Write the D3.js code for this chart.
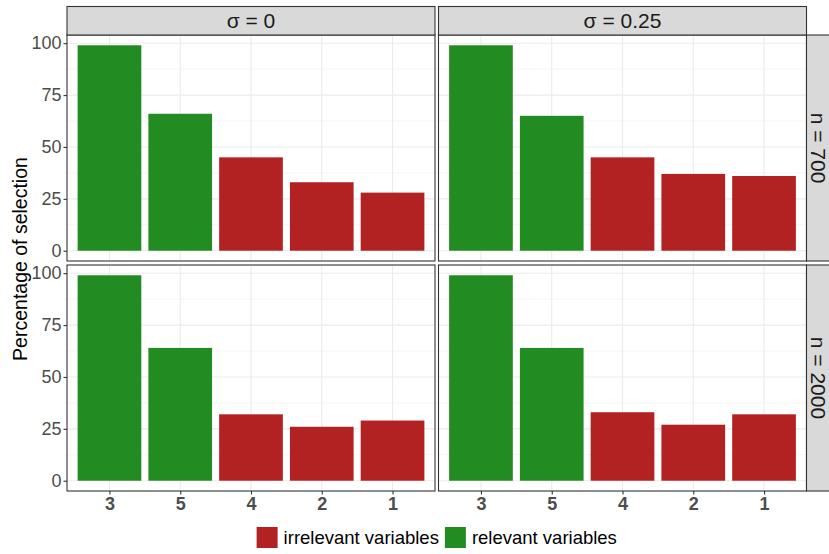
<!DOCTYPE html>
<html lang="en">
  <head>
    <meta charset="utf-8" />
    <title>Percentage of selection</title>
    <script src="https://d3js.org/d3.v7.js"></script>
    <style>
      body { margin: 0; background: #fff; }
      text { font-family: "Liberation Sans", Arial, sans-serif; }
    </style>
  </head>
  <body>
    <div id="graph"></div>
    <script>

    // data
    var variables = ["3", "5", "4", "2", "1"];
    var groups = ["relevant", "relevant", "irrelevant", "irrelevant", "irrelevant"];
    var sigmaLabels = ["0", "0.25"];
    var nLabels = ["700", "2000"];
    var sel_n700_s0 = [99, 66, 45, 33, 28];
    var sel_n700_s025 = [99, 65, 45, 37, 36];
    var sel_n2000_s0 = [99, 64, 32, 26, 29];
    var sel_n2000_s025 = [99, 64, 33, 27, 32];
    var yTicks = [0, 25, 50, 75, 100];
    var yMinor = [12.5, 37.5, 62.5, 87.5];
    var legendLabels = ["irrelevant variables", "relevant variables"];
    var legendGroups = ["irrelevant", "relevant"];

    var panels = [
      {row: 0, col: 0, values: sel_n700_s0},
      {row: 0, col: 1, values: sel_n700_s025},
      {row: 1, col: 0, values: sel_n2000_s0},
      {row: 1, col: 1, values: sel_n2000_s025}
    ];

    var colour = d3.scaleOrdinal()
      .domain(["irrelevant", "relevant"])
      .range(["#B22222", "#228B22"]);

    // layout
    var w = 829, h = 554;
    var plotLeft = 67, plotTop = 35;
    var panelW = 368, panelH = 226;
    var gapX = 3.5, gapY = 4;
    var stripH = 28.5;

    var x = d3.scaleLinear()
      .domain([0.4, 5.6])
      .range([0, panelW]);

    var y = d3.scaleLinear()
      .domain([-4.95, 103.95])
      .range([panelH, 0]);

    var svg = d3.select("#graph")
      .append("svg")
        .attr("width", w)
        .attr("height", h);

    panels.forEach(function(p) {
      var px = plotLeft + p.col * (panelW + gapX);
      var py = plotTop + p.row * (panelH + gapY);
      var g = svg.append("g")
        .attr("transform", `translate(${px},${py})`);

      g.append("rect")
        .attr("width", panelW)
        .attr("height", panelH)
        .attr("fill", "#fff");

      // grid
      g.selectAll(".minor")
        .data(yMinor)
        .join("line")
          .attr("x1", 0).attr("x2", panelW)
          .attr("y1", d => y(d)).attr("y2", d => y(d))
          .attr("stroke", "#f2f2f2")
          .attr("stroke-width", 0.8);
      g.selectAll(".hmajor")
        .data(yTicks)
        .join("line")
          .attr("x1", 0).attr("x2", panelW)
          .attr("y1", d => y(d)).attr("y2", d => y(d))
          .attr("stroke", "#ebebeb")
          .attr("stroke-width", 1.1);
      g.selectAll(".vmajor")
        .data(variables)
        .join("line")
          .attr("x1", (d, i) => x(i + 1)).attr("x2", (d, i) => x(i + 1))
          .attr("y1", 0).attr("y2", panelH)
          .attr("stroke", "#ebebeb")
          .attr("stroke-width", 1.1);

      // bars
      g.selectAll(".bar")
        .data(p.values)
        .join("rect")
          .attr("x", (d, i) => x(i + 1 - 0.45))
          .attr("width", x(1.45) - x(0.55))
          .attr("y", d => y(d))
          .attr("height", d => y(0) - y(d))
          .attr("fill", (d, i) => colour(groups[i]));

      g.append("rect")
        .attr("width", panelW)
        .attr("height", panelH)
        .attr("fill", "none")
        .attr("stroke", "#333333")
        .attr("stroke-width", 1.1);

      // y axis on the left column
      if (p.col === 0) {
        var ya = g.append("g")
          .call(d3.axisLeft(y).tickValues(yTicks).tickSize(3.5).tickPadding(2));
        ya.select(".domain").remove();
        ya.selectAll("line").attr("stroke", "#333333").attr("stroke-width", 1.1);
        ya.selectAll("text")
          .attr("fill", "#4d4d4d")
          .style("font-size", "18px")
          .style("font-family", "'Liberation Sans', Arial, sans-serif");
      }

      // x axis on the bottom row
      if (p.row === 1) {
        var xa = g.append("g")
          .attr("transform", `translate(0,${panelH})`)
          .call(d3.axisBottom(x).tickValues([1, 2, 3, 4, 5])
            .tickFormat(d => variables[d - 1]).tickSize(3.5).tickPadding(3));
        xa.select(".domain").remove();
        xa.selectAll("line").attr("stroke", "#333333").attr("stroke-width", 1.1);
        xa.selectAll("text")
          .attr("fill", "#4d4d4d")
          .style("font-size", "18px")
          .style("font-weight", "bold")
          .style("font-family", "'Liberation Sans', Arial, sans-serif");
      }

      // top strips
      if (p.row === 0) {
        g.append("rect")
          .attr("y", -stripH)
          .attr("width", panelW)
          .attr("height", stripH)
          .attr("fill", "#d9d9d9")
          .attr("stroke", "#333333")
          .attr("stroke-width", 1.1);
        g.append("text")
          .attr("x", panelW / 2)
          .attr("y", -stripH / 2)
          .attr("dy", "0.36em")
          .attr("text-anchor", "middle")
          .attr("fill", "#1a1a1a")
          .style("font-size", "21px")
          .text("σ = " + sigmaLabels[p.col]);
      }

      // right strips (cut by the picture edge, as in the original)
      if (p.col === 1) {
        g.append("rect")
          .attr("x", panelW)
          .attr("width", stripH)
          .attr("height", panelH)
          .attr("fill", "#d9d9d9")
          .attr("stroke", "#333333")
          .attr("stroke-width", 1.1);
        g.append("text")
          .attr("transform", `translate(${panelW + 12.5},${panelH / 2}) rotate(90)`)
          .attr("dy", "0.36em")
          .attr("text-anchor", "middle")
          .attr("fill", "#1a1a1a")
          .style("font-size", "21px")
          .text("n = " + nLabels[p.row]);
      }
    });

    // y title
    svg.append("text")
      .attr("transform", "translate(20,259) rotate(-90)")
      .attr("dy", "0.36em")
      .attr("text-anchor", "middle")
      .style("font-size", "19.5px")
      .text("Percentage of selection");

    // legend
    var key = 21;
    var legend = svg.append("g");
    var cursor = 0;
    legendLabels.forEach(function(lab, i) {
      var item = legend.append("g").attr("transform", `translate(${cursor},0)`);
      item.append("rect")
        .attr("width", key)
        .attr("height", key)
        .attr("fill", colour(legendGroups[i]));
      var t = item.append("text")
        .attr("x", key + 6)
        .attr("y", key / 2)
        .attr("dy", "0.36em")
        .style("font-size", "18.5px")
        .attr("fill", "#000")
        .text(lab);
      cursor += key + 6 + t.node().getComputedTextLength() + 6;
    });
    var legendW = cursor - 6;
    var centre = plotLeft + (2 * panelW + gapX) / 2;
    legend.attr("transform", `translate(${centre - legendW / 2},527)`);

    </script>
  </body>
</html>
